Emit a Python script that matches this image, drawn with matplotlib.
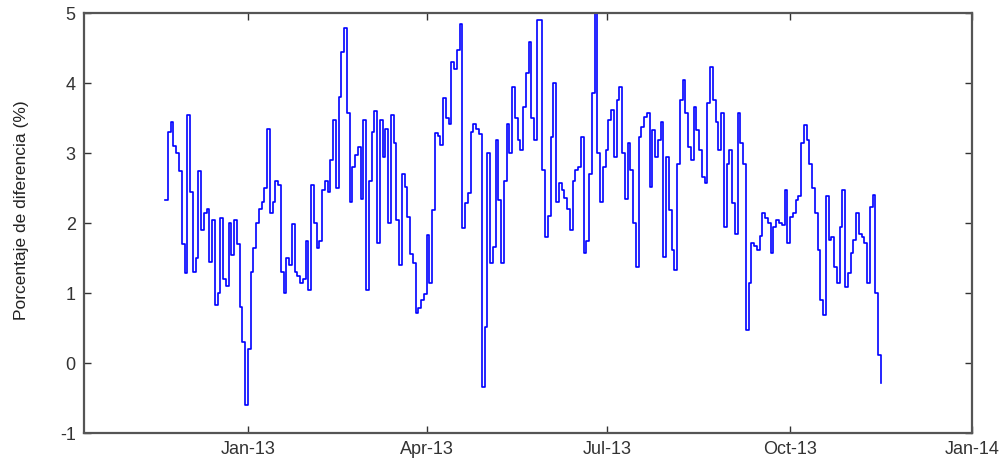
import matplotlib
matplotlib.use("Agg")
import matplotlib.pyplot as plt
import matplotlib.dates as mdates
import pandas as pd

plt.rcParams["axes.unicode_minus"] = False

# percentage difference, sampled evenly from 20 Nov 2012 to 16 Nov 2013
start_date = "2012-11-20"
end_date = "2013-11-16"
values = [
    2.33, 3.30, 3.45, 3.10, 3.00, 2.75, 1.70, 1.28, 3.55, 2.45,
    1.30, 1.50, 2.75, 1.90, 2.15, 2.20, 1.45, 2.05, 0.83, 1.00,
    2.07, 1.20, 1.10, 2.00, 1.55, 2.05, 1.70, 0.80, 0.30, -0.60,
    0.20, 1.30, 1.65, 2.00, 2.20, 2.30, 2.50, 3.35, 2.15, 2.30,
    2.60, 2.55, 1.30, 1.00, 1.50, 1.40, 1.98, 1.30, 1.25, 1.15,
    1.20, 1.75, 1.05, 2.55, 2.00, 1.65, 1.75, 2.47, 2.60, 2.45,
    2.90, 3.47, 2.50, 3.80, 4.45, 4.78, 3.57, 2.30, 2.80, 2.97,
    3.09, 2.35, 3.47, 1.04, 2.60, 3.30, 3.60, 1.71, 3.47, 2.94,
    3.35, 2.00, 3.54, 3.14, 2.04, 1.40, 2.70, 2.51, 2.09, 1.56,
    1.43, 0.71, 0.79, 0.90, 0.99, 1.83, 1.14, 2.19, 3.29, 3.25,
    3.11, 3.78, 3.50, 3.42, 4.30, 4.20, 4.47, 4.85, 1.93, 2.29,
    2.43, 3.30, 3.42, 3.35, 3.27, -0.34, 0.51, 3.00, 1.43, 1.66,
    3.19, 2.33, 1.43, 2.60, 3.42, 3.00, 3.94, 3.50, 3.19, 3.04,
    3.66, 4.14, 4.58, 3.50, 3.19, 4.90, 4.90, 2.76, 1.80, 2.10,
    3.23, 4.00, 2.30, 2.57, 2.47, 2.36, 2.20, 1.90, 2.60, 2.76,
    2.80, 3.23, 1.57, 1.75, 2.70, 3.86, 5.00, 3.00, 2.30, 2.80,
    3.04, 3.47, 3.61, 2.95, 3.76, 3.94, 3.00, 2.35, 3.14, 2.76,
    2.00, 1.37, 3.23, 3.37, 3.52, 3.57, 2.51, 3.33, 2.94, 3.18,
    3.44, 1.52, 2.94, 2.19, 1.61, 1.33, 2.85, 3.76, 4.04, 3.57,
    3.09, 2.90, 3.66, 3.33, 3.04, 2.66, 2.57, 3.71, 4.23, 3.76,
    3.44, 3.04, 3.57, 1.95, 2.85, 3.04, 2.28, 1.85, 3.57, 3.14,
    2.85, 0.47, 1.14, 1.71, 1.67, 1.62, 1.81, 2.14, 2.07, 2.00,
    1.57, 1.95, 2.04, 2.00, 1.97, 2.47, 1.71, 2.09, 2.14, 2.33,
    2.38, 3.14, 3.40, 3.18, 2.85, 2.50, 2.14, 1.61, 0.90, 0.69,
    2.38, 1.76, 1.80, 1.37, 1.14, 1.95, 2.47, 1.09, 1.28, 1.57,
    1.76, 2.14, 1.85, 1.80, 1.71, 1.14, 2.23, 2.40, 1.00, 0.12,
    -0.29,
]
dates = pd.date_range(start_date, end_date, periods=len(values))

x_ticks = ["2013-01-01", "2013-04-01", "2013-07-01", "2013-10-01", "2014-01-01"]
y_ticks = [-1, 0, 1, 2, 3, 4, 5]

fig = plt.figure(figsize=(10.08, 4.59), dpi=100)
ax = fig.add_axes([0.0833, 0.0566, 0.881, 0.915])

ax.plot(dates, values, color=(0, 0, 1), lw=1.2, drawstyle="steps-post")

ax.set_xlim(pd.Timestamp("2012-10-10"), pd.Timestamp("2014-01-01"))
ax.set_ylim(-1, 5)
ax.set_xticks(pd.to_datetime(x_ticks))
ax.xaxis.set_major_formatter(mdates.DateFormatter("%b-%y"))
ax.set_yticks(y_ticks)

ax.tick_params(direction="in", length=5, width=1, top=True, right=True,
               labelsize=13, colors="#333333", pad=6)
for lab in ax.get_xticklabels() + ax.get_yticklabels():
    lab.set_family(["Liberation Sans", "DejaVu Sans"])
for s in ax.spines.values():
    s.set_color("#555555")
    s.set_linewidth(1.6)

ax.set_ylabel("Porcentaje de diferencia (%)", fontsize=12.5, color="#222222",
              family=["Liberation Sans Narrow", "Liberation Sans", "DejaVu Sans"])
ax.yaxis.set_label_coords(-0.062, 0.53)

fig.savefig("out.png", dpi=100)
